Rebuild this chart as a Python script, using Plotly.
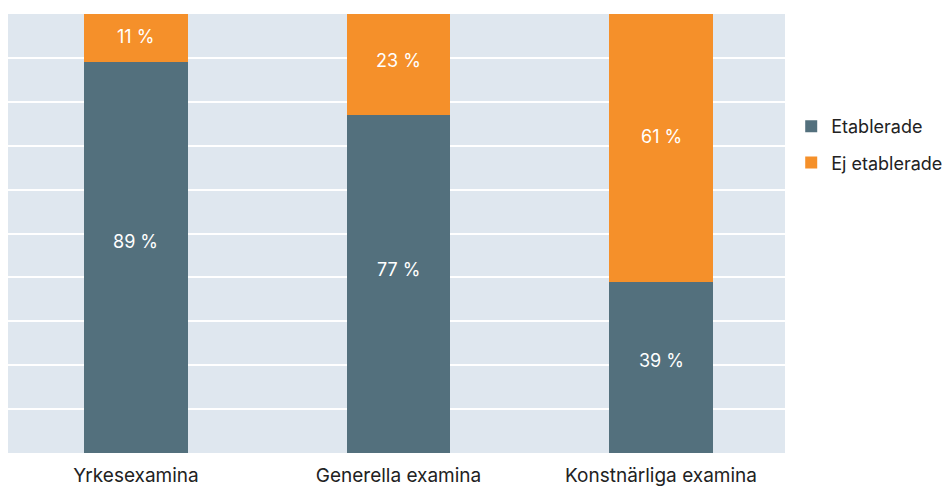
import plotly.graph_objects as go

categories = ["Yrkesexamina", "Generella examina", "Konstnärliga examina"]
etablerade = [89, 77, 39]
ej_etablerade = [11, 23, 61]

FONT = "Inter, Roboto, sans-serif"
DARK = "#53707d"
ORANGE = "#f5902a"

fig = go.Figure()
fig.add_trace(go.Bar(
    name="Etablerade", x=categories, y=etablerade, legendgroup="a",
    marker=dict(color=DARK, line=dict(width=0)),
    width=0.396, hoverinfo="x+y",
))
fig.add_trace(go.Bar(
    name="Ej etablerade", x=categories, y=ej_etablerade, legendgroup="b",
    marker=dict(color=ORANGE, line=dict(width=0)),
    width=0.396, hoverinfo="x+y",
))

# value labels inside segments
for cat, a, b in zip(categories, etablerade, ej_etablerade):
    for base, v in ((0, a), (a, b)):
        fig.add_annotation(x=cat, y=base + v * 0.545, text=f"{v} %",
                           showarrow=False, xref="x", yref="y", yshift=-1,
                           font=dict(color="white", size=18, family=FONT))

fig.update_layout(
    barmode="stack",
    width=943, height=478,
    margin=dict(l=0, r=166, t=6, b=33, autoexpand=False),
    paper_bgcolor="white",
    plot_bgcolor="#dfe7ef",
    font=dict(family=FONT, size=19, color="#222222"),
    showlegend=True,
    legend=dict(x=1.008, xanchor="left", y=0.786, yanchor="top",
                font=dict(size=18, color="#222222", family=FONT),
                tracegroupgap=10, traceorder="grouped",
                itemwidth=30),
)
fig.update_xaxes(range=[-0.4876, 2.4724], showgrid=False, ticks="outside",
                 ticklen=5, tickcolor="rgba(0,0,0,0)",
                 tickfont=dict(size=19, color="#222222"), showline=False)
fig.update_yaxes(range=[0, 100], dtick=10, showticklabels=False,
                 gridcolor="white", gridwidth=1.5, zeroline=False, showline=False)

fig.write_html("out.html")
